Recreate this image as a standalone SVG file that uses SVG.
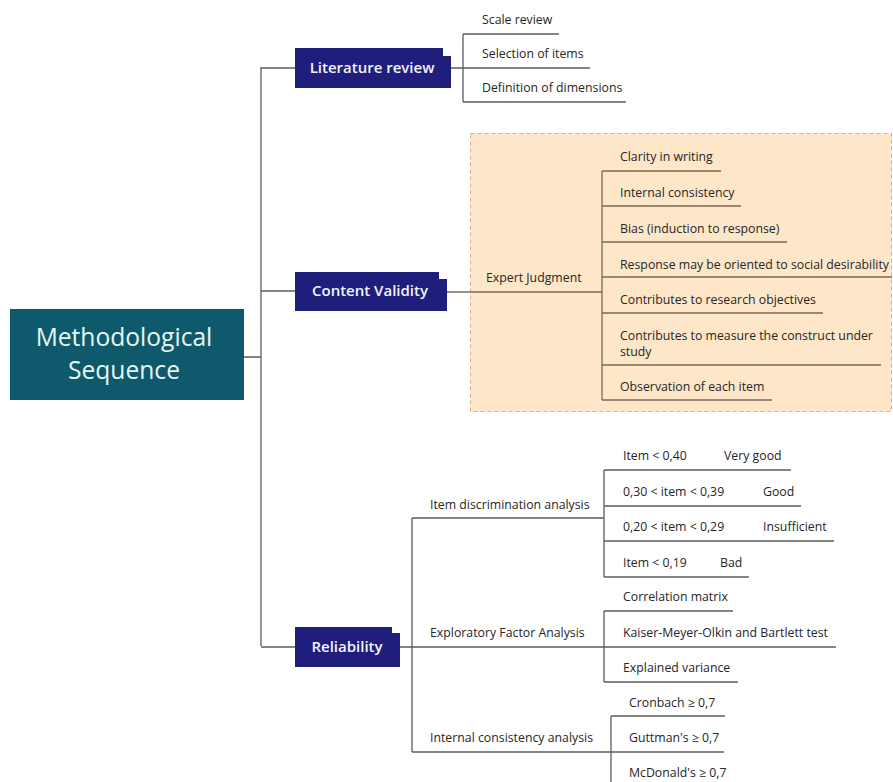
<svg xmlns="http://www.w3.org/2000/svg" width="893" height="782" viewBox="0 0 893 782">
<style>
.ln{fill:none;stroke:#5e5e5e;stroke-width:1.3}
.lb{fill:none;stroke:#7d6a52;stroke-width:1.3}
.t{font-family:"Open Sans",Lato,sans-serif;font-size:12.3px;font-weight:500;fill:#262626}
.nb{fill:#1f1e7d}
.nt{font-family:"Open Sans",Lato,sans-serif;font-size:15px;font-weight:600;fill:#f4f4fb;text-anchor:middle}
.rt{font-family:"Open Sans",Lato,sans-serif;font-size:24.6px;font-weight:500;fill:#e6f6f3;text-anchor:middle}
</style>
<rect width="893" height="782" fill="#ffffff"/>
<rect id="expert-area" x="470.5" y="133.5" width="421" height="278" fill="#fde7c8" stroke="#d6b386" stroke-width="1" stroke-dasharray="4,3"/>
<g id="connectors">
<path class="ln" d="M244,357 H261 M261,67 V646 M261,68 H295 M261,291 H295 M261,647 H295"/>
<path class="ln" d="M451,68 H590 M463,34 V102 M463,34 H559 M463,102 H626"/>
<path class="lb" d="M447,292 H602 M602,171 V400 M602,171 H721 M602,206 H741 M602,242 H787 M602,277 H892 M602,313 H823 M602,365 H881 M602,400 H772"/>
<path class="ln" d="M400,647 H836 M412,518 V752 M412,518 H604 M604,470 V577 M604,470 H791 M604,506 H801 M604,541 H834 M604,577 H749"/>
<path class="ln" d="M604,611 V682 M604,611 H733 M604,682 H738"/>
<path class="ln" d="M412,752 H724 M611,716 V782 M611,716 H725"/>
</g>
<g id="root">
<rect x="10" y="309" width="234" height="91" fill="#0e5a6c"/>
<text class="rt" x="124" y="346">Methodological</text>
<text class="rt" x="124" y="379">Sequence</text>
</g>
<g id="literature-review">
<path class="nb" d="M295,48 H443 V56 H451 V88 H295 Z"/>
<text class="nt" x="372" y="73">Literature review</text>
</g>
<g id="lr-children">
<text class="t" x="482" y="24">Scale review</text>
<text class="t" x="482" y="58">Selection of items</text>
<text class="t" x="482" y="92">Definition of dimensions</text>
</g>
<g id="content-validity">
<path class="nb" d="M295,272 H439 V279 H447 V311 H295 Z"/>
<text class="nt" x="370" y="296">Content Validity</text>
</g>
<g id="expert-judgment">
<text class="t" x="486" y="282">Expert Judgment</text>
<text class="t" x="620" y="161">Clarity in writing</text>
<text class="t" x="620" y="197">Internal consistency</text>
<text class="t" x="620" y="233">Bias (induction to response)</text>
<text class="t" x="620" y="269">Response may be oriented to social desirability</text>
<text class="t" x="620" y="304">Contributes to research objectives</text>
<text class="t" x="620" y="340">Contributes to measure the construct under</text>
<text class="t" x="620" y="356">study</text>
<text class="t" x="620" y="391">Observation of each item</text>
</g>
<g id="reliability">
<path class="nb" d="M295,627 H392 V633 H400 V667 H295 Z"/>
<text class="nt" x="347" y="652">Reliability</text>
</g>
<g id="item-discrimination">
<text class="t" x="430" y="509">Item discrimination analysis</text>
<text class="t" x="623" y="460">Item &lt; 0,40</text>
<text class="t" x="724" y="460">Very good</text>
<text class="t" x="623" y="496">0,30 &lt; item &lt; 0,39</text>
<text class="t" x="763" y="496">Good</text>
<text class="t" x="623" y="531">0,20 &lt; item &lt; 0,29</text>
<text class="t" x="763" y="531">Insufficient</text>
<text class="t" x="623" y="567">Item &lt; 0,19</text>
<text class="t" x="720" y="567">Bad</text>
</g>
<g id="efa">
<text class="t" x="430" y="637">Exploratory Factor Analysis</text>
<text class="t" x="623" y="601">Correlation matrix</text>
<text class="t" x="623" y="637">Kaiser-Meyer-Olkin and Bartlett test</text>
<text class="t" x="623" y="672">Explained variance</text>
</g>
<g id="internal-consistency">
<text class="t" x="430" y="742">Internal consistency analysis</text>
<text class="t" x="629" y="707">Cronbach ≥ 0,7</text>
<text class="t" x="629" y="742">Guttman's ≥ 0,7</text>
<text class="t" x="629" y="777">McDonald's ≥ 0,7</text>
</g>
</svg>
